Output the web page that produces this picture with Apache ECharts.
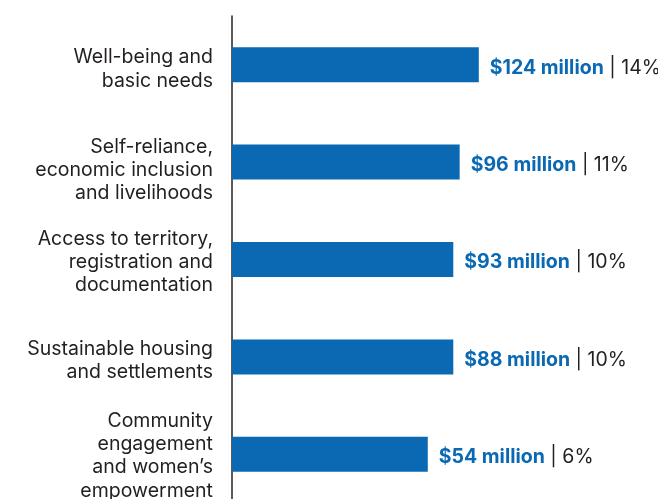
<!DOCTYPE html>
<html>
<head>
<meta charset="utf-8">
<script src="https://cdn.jsdelivr.net/npm/echarts@6/dist/echarts.min.js"></script>
<style>
  html, body { margin: 0; padding: 0; background: #ffffff; }
  #chart { width: 658px; height: 499px; }
</style>
</head>
<body>
<div id="chart"></div>
<script>
// Funding by area of impact
const categories = [
  'Well-being and\nbasic needs',
  'Self-reliance,\neconomic inclusion\nand livelihoods',
  'Access to territory,\nregistration and\ndocumentation',
  'Sustainable housing\nand settlements',
  'Community\nengagement\nand women\u2019s\nempowerment'
];
const amountsMillion = [124, 96, 93, 88, 54];
const sharePercent = [14, 11, 10, 10, 6];

const BLUE = '#0A69B2';
const TEXT = '#231F20';
const FONT = 'Inter, "Open Sans", sans-serif';
const SIZE = 19.5;
const LINE = 23.3;

// downward nudge (px) for each category label block, done with an
// empty leading line whose height is twice the nudge
const labelDrop = [4.5, 8, 2.5, 4, 1.5];

const labelRich = {
  t: { color: TEXT, fontFamily: FONT, fontSize: SIZE, lineHeight: LINE }
};
labelDrop.forEach(function (d, i) {
  labelRich['g' + i] = { fontSize: 1, lineHeight: d * 2 };
});

const chart = echarts.init(document.getElementById('chart'), null, { renderer: 'canvas' });

chart.setOption({
  backgroundColor: '#ffffff',
  animation: false,
  grid: {
    left: 232, right: 0, top: 16, bottom: -4,
    containLabel: false,
    outerBoundsMode: 'none'
  },
  xAxis: {
    type: 'value',
    min: -24.7,
    max: 42.1,
    startValue: -24.7,
    show: false
  },
  yAxis: {
    type: 'category',
    inverse: true,
    data: categories,
    axisLine: { show: true, onZero: false, lineStyle: { color: '#222222', width: 1.5 } },
    axisTick: { show: false },
    axisLabel: {
      margin: 19,
      color: TEXT,
      fontFamily: FONT,
      fontSize: SIZE,
      lineHeight: LINE,
      align: 'right',
      formatter: function (value, index) {
        return '{g' + index + '|}\n' + value.split('\n').map(function (line) {
          return '{t|' + line + '}';
        }).join('\n');
      },
      rich: labelRich
    }
  },
  series: [{
    type: 'bar',
    data: sharePercent,
    barWidth: 35,
    itemStyle: { color: BLUE },
    label: {
      show: true,
      position: 'right',
      distance: 11,
      offset: [0, 3],
      fontFamily: FONT,
      formatter: function (p) {
        return '{amt|$' + amountsMillion[p.dataIndex] + ' million}{sep| | }{pct|' + sharePercent[p.dataIndex] + '%}';
      },
      rich: {
        amt: { color: BLUE, fontWeight: 'bold', fontSize: SIZE, fontFamily: FONT },
        sep: { color: TEXT, fontSize: SIZE, fontFamily: FONT },
        pct: { color: TEXT, fontSize: SIZE, fontFamily: FONT }
      }
    }
  }]
});
</script>
</body>
</html>
